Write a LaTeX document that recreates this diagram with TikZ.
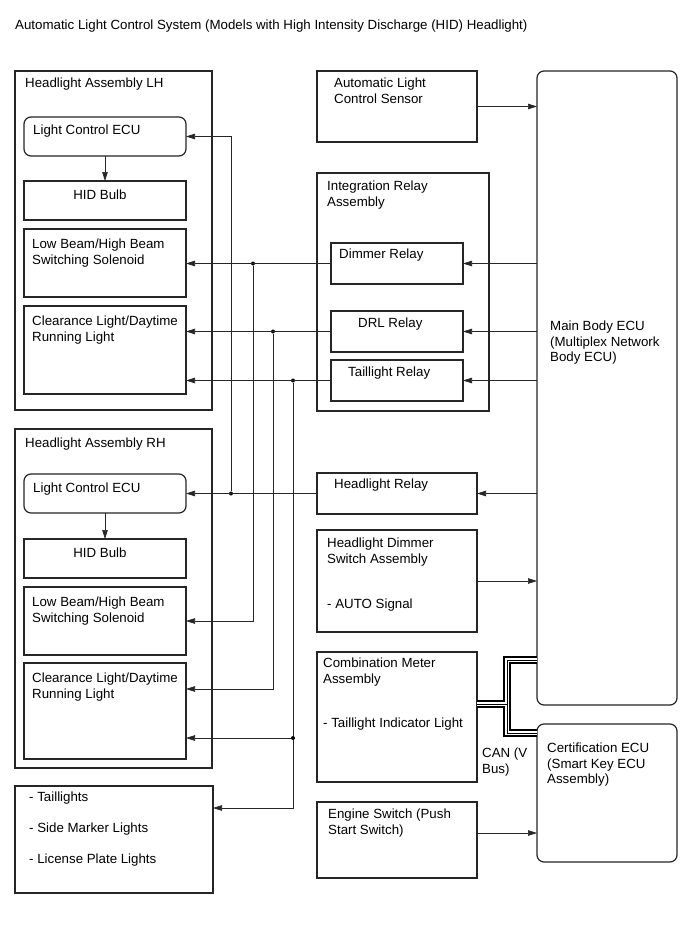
\documentclass[tikz,border=0pt]{standalone}
\usepackage{fontspec}
\setmainfont{Liberation Sans}
\usetikzlibrary{positioning,arrows.meta,calc}

\begin{document}
\begin{tikzpicture}[
    x=1pt, y=-1pt,
    font=\fontsize{13.3}{15.5}\selectfont,
    node distance=9pt,
    unit/.style  = {rectangle, draw=black!85, line width=1.2pt, anchor=north west,
                    inner sep=0pt, outer sep=0pt},
    ecu/.style   = {unit, rounded corners=7pt},
    tag/.style   = {align=left, inner sep=0pt, anchor=north west},
    wire/.style  = {line width=0.7pt, black!85},
    sig/.style   = {wire, -{Triangle[length=9pt,width=5.5pt]}},
    dot/.style   = {circle, fill=black, inner sep=0pt, minimum size=4pt},
    can/.style   = {line width=1.5pt, double=white, double distance=4.5pt,
                    postaction={draw=black, line width=0.8pt}}
]
\path[use as bounding box, fill=white] (0,0) rectangle (689,950);

\node[tag] (title) at (15,20)
  {Automatic Light Control System (Models with High Intensity Discharge (HID) Headlight)};

% --- Headlight assembly LH ---------------------------------------------------
\node[unit, minimum width=197pt, minimum height=339pt,
      label={[tag, xshift=10pt, yshift=-7pt]north west:Headlight Assembly LH}]
      (headL) at (15,71) {};
\node[ecu, minimum width=162pt, minimum height=39pt,
      label={[tag, xshift=9pt, yshift=-8pt]north west:Light Control ECU}]
      (lcuL) at (24,117) {};
\node[unit, minimum width=162pt, minimum height=39pt, below=25pt of lcuL,
      label={[tag, anchor=north, xshift=-5pt, yshift=-9pt]north:HID Bulb}]
      (hidL) {};
\node[unit, minimum width=162pt, minimum height=68pt, below=of hidL,
      label={[tag, xshift=8pt, yshift=-10pt]north west:{Low Beam/High Beam\\Switching Solenoid}}]
      (lowL) {};
\node[unit, minimum width=162pt, minimum height=88pt, below=of lowL,
      label={[tag, xshift=8pt, yshift=-10pt]north west:{Clearance Light/Daytime\\Running Light}}]
      (clearL) {};

% --- Headlight assembly RH ---------------------------------------------------
\node[unit, minimum width=197pt, minimum height=339pt,
      label={[tag, xshift=10pt, yshift=-9pt]north west:Headlight Assembly RH}]
      (headR) at (15,429) {};
\node[ecu, minimum width=162pt, minimum height=39pt,
      label={[tag, xshift=9pt, yshift=-9pt]north west:Light Control ECU}]
      (lcuR) at (24,474) {};
\node[unit, minimum width=162pt, minimum height=39pt, below=26pt of lcuR,
      label={[tag, anchor=north, xshift=-5pt, yshift=-9pt]north:HID Bulb}]
      (hidR) {};
\node[unit, minimum width=162pt, minimum height=68pt, below=of hidR,
      label={[tag, xshift=8pt, yshift=-10pt]north west:{Low Beam/High Beam\\Switching Solenoid}}]
      (lowR) {};
\node[unit, minimum width=162pt, minimum height=96pt, below=8pt of lowR,
      label={[tag, xshift=8pt, yshift=-10pt]north west:{Clearance Light/Daytime\\Running Light}}]
      (clearR) {};

\node[unit, minimum width=198pt, minimum height=107pt,
      label={[tag, xshift=14pt, yshift=-6pt]north west:{- Taillights\\[15.5pt]- Side Marker Lights\\[15.5pt]- License Plate Lights}}]
      (tails) at (15,786) {};

% --- Middle column -----------------------------------------------------------
\node[unit, minimum width=160pt, minimum height=71pt,
      label={[tag, xshift=17pt, yshift=-7pt]north west:{Automatic Light\\Control Sensor}}]
      (sensor) at (317,71) {};

\node[unit, minimum width=172pt, minimum height=238pt,
      label={[tag, xshift=10pt, yshift=-8pt]north west:{Integration Relay\\Assembly}}]
      (integ) at (317,173) {};
\node[unit, minimum width=132pt, minimum height=41pt,
      label={[tag, xshift=8pt, yshift=-6pt]north west:Dimmer Relay}]
      (dimmer) at (331,243) {};
\node[unit, minimum width=132pt, minimum height=41pt, below=27pt of dimmer,
      label={[tag, xshift=27pt, yshift=-7pt]north west:DRL Relay}]
      (drl) {};
\node[unit, minimum width=132pt, minimum height=41pt, below=8pt of drl,
      label={[tag, xshift=17pt, yshift=-7pt]north west:Taillight Relay}]
      (trelay) {};

\node[unit, minimum width=160pt, minimum height=41pt,
      label={[tag, xshift=17pt, yshift=-6pt]north west:Headlight Relay}]
      (hrelay) at (317,473) {};
\node[unit, minimum width=160pt, minimum height=102pt, below=16pt of hrelay,
      label={[tag, xshift=10pt, yshift=-8pt]north west:{Headlight Dimmer\\Switch Assembly\\[30pt]- AUTO Signal}}]
      (dswitch) {};
\node[unit, minimum width=160pt, minimum height=130pt, below=20pt of dswitch,
      label={[tag, xshift=6pt, yshift=-6pt]north west:{Combination Meter\\Assembly\\[29pt]- Taillight Indicator Light}}]
      (comb) {};
\node[unit, minimum width=160pt, minimum height=76pt, below=20pt of comb,
      label={[tag, xshift=11pt, yshift=-7pt]north west:{Engine Switch (Push\\Start Switch)}}]
      (engine) {};

% --- Right column ------------------------------------------------------------
\node[ecu, minimum width=140pt, minimum height=634pt,
      label={[tag, xshift=13pt, yshift=-250pt]north west:{Main Body ECU\\(Multiplex Network\\Body ECU)}}]
      (main) at (537,71) {};
\node[ecu, minimum width=140pt, minimum height=138pt,
      label={[tag, xshift=10pt, yshift=-19pt]north west:{Certification ECU\\(Smart Key ECU\\Assembly)}}]
      (cert) at (537,724) {};

\node[tag] (canlbl) at (482,748) {CAN (V\\Bus)};

% --- Junctions ---------------------------------------------------------------
\node[dot] (jA) at (231,0 |- hrelay.west) {};
\node[dot] (jB) at (253,0 |- dimmer.west) {};
\node[dot] (jC) at (273,0 |- drl.west)    {};
\node[dot] (jD) at (293,0 |- trelay.west) {};
\node[dot] (jE) at (jD |- 0,738)          {};

% --- Flows -------------------------------------------------------------------
\draw[sig] (lcuL) -- (hidL);
\draw[sig] (lcuR) -- (hidR);

\draw[sig] (sensor.east) -- (sensor.east -| main.west);
\draw[sig] (dimmer.east -| main.west) -- (dimmer.east);
\draw[sig] (drl.east -| main.west)    -- (drl.east);
\draw[sig] (trelay.east -| main.west) -- (trelay.east);
\draw[sig] (hrelay.east -| main.west) -- (hrelay.east);
\draw[sig] (dswitch.east) -- (dswitch.east -| main.west);
\draw[sig] ([yshift=7pt]engine.east) -- ([yshift=7pt]engine.east -| cert.west);

% relays to both headlights
\draw[sig] (dimmer.west) -- (dimmer.west -| lowL.east);
\draw[sig] (jB) |- (lowR.east);
\draw[sig] (drl.west) -- (drl.west -| clearL.east);
\draw[sig] (jC) |- ([yshift=-26pt]clearR.north east);
\draw[sig] (trelay.west) -- (trelay.west -| clearL.east);
\draw[wire] (jD) -- (jE);
\draw[sig] (jE) -- (jE -| clearR.east);
\draw[sig] (jE) |- ([yshift=-22pt]tails.north east);
\draw[sig] (hrelay.west) -- (lcuR.east);
\draw[sig] (jA) |- (lcuL.east);

% CAN (V Bus)
\draw[can] (comb.east |- 0,704) -- (507,704)
           (main.west |- 0,660) -| (507,733) -- (cert.west |- 0,733);

\end{tikzpicture}
\end{document}
